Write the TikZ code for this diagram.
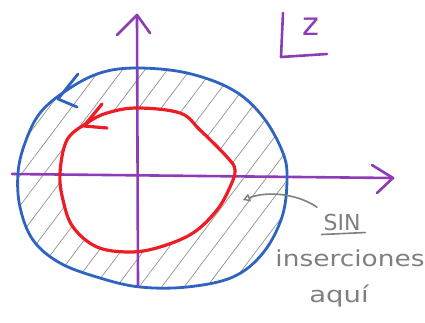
\documentclass[tikz,border=0pt]{standalone}
\usepackage{fontspec}
\setsansfont{DejaVu Sans}
\usepackage{tikz}
\usetikzlibrary{arrows.meta,patterns.meta}
\definecolor{axispurple}{HTML}{8E3BB8}
\definecolor{contourblue}{HTML}{2F63C0}
\definecolor{contourred}{HTML}{EE1C25}
\definecolor{notegray}{HTML}{7F7F7F}
\tikzset{
  axisline/.style={draw=axispurple, line width=2.6pt, line cap=round, line join=round},
  outerloop/.style={draw=contourblue, line width=2.8pt, line cap=round, line join=round},
  innerloop/.style={draw=contourred, line width=3.2pt, line cap=round, line join=round},
  hatch/.style={pattern={Lines[angle=53,distance=18pt,line width=0.7pt]}, pattern color=notegray!85},
  notetext/.style={text=notegray, font=\sffamily\fontsize{22}{22}\selectfont, inner sep=0pt},
  notearrow/.style={draw=notegray, line width=1.6pt, -{Triangle[open, length=7pt, width=8pt, line width=1.4pt]}}
}
\newcommand{\bluepts}{(137,68) (187,73) (233,90) (263,117) (283,153) (287,180) (282,217) (263,253) (233,277) (187,287) (140,287) (100,278) (60,263) (33,240) (20,207) (18,173) (25,143) (40,113) (67,90) (100,73)}
\newcommand{\redpts}{(137,108) (180,113) (200,130) (227,157) (235,170) (230,187) (217,210) (193,233) (160,247) (130,252) (97,247) (73,227) (63,200) (60,173) (67,140) (87,123) (107,113)}
\begin{document}
\begin{tikzpicture}[x=1pt, y=-1pt]
  \useasboundingbox (0,0) rectangle (425,322);

  \fill[hatch, even odd rule] plot[smooth cycle, tension=0.6] coordinates {\bluepts}
    plot[smooth cycle, tension=0.6] coordinates {\redpts};

  \coordinate (xstart) at (12,174);
  \coordinate (xend) at (393,178);
  \coordinate (ystart) at (138,285);
  \coordinate (yend) at (137,15);
  \draw[axisline] (xstart) -- (xend);
  \draw[axisline] (ystart) -- (yend);
  \draw[axisline] (372,165) -- (xend) -- (377,193);
  \draw[axisline] (117,35) -- (yend) -- (150,33);

  \draw[outerloop] plot[smooth cycle, tension=0.6] coordinates {\bluepts};
  \draw[outerloop] (78,74) -- (58,99) -- (77,107);

  \draw[innerloop] plot[smooth cycle, tension=0.6] coordinates {\redpts};
  \draw[innerloop] (102,104) -- (84,126) -- (107,128);

  \draw[axisline] (283,13) -- (281,57) -- (327,54);
  \node[text=axispurple, font=\sffamily\fontsize{32}{32}\selectfont] (zlabel) at (311,27) {z};

  \node[notetext] (sin) at (342,222) {SIN};
  \draw[draw=notegray, line width=1.6pt, line cap=round] (sin.south west) ++(-2,4) -- ++(44,-2);
  \node[notetext, xscale=1.2] (inter) at (350,258) {inserciones};
  \node[notetext, xscale=1.25] (aqui) at (339,296) {aquí};
  \coordinate (annulus) at (243,200);
  \draw[notearrow] (sin.north west) ++(-6,-6) .. controls (300,195) and (270,190) .. (annulus);
\end{tikzpicture}
\end{document}
